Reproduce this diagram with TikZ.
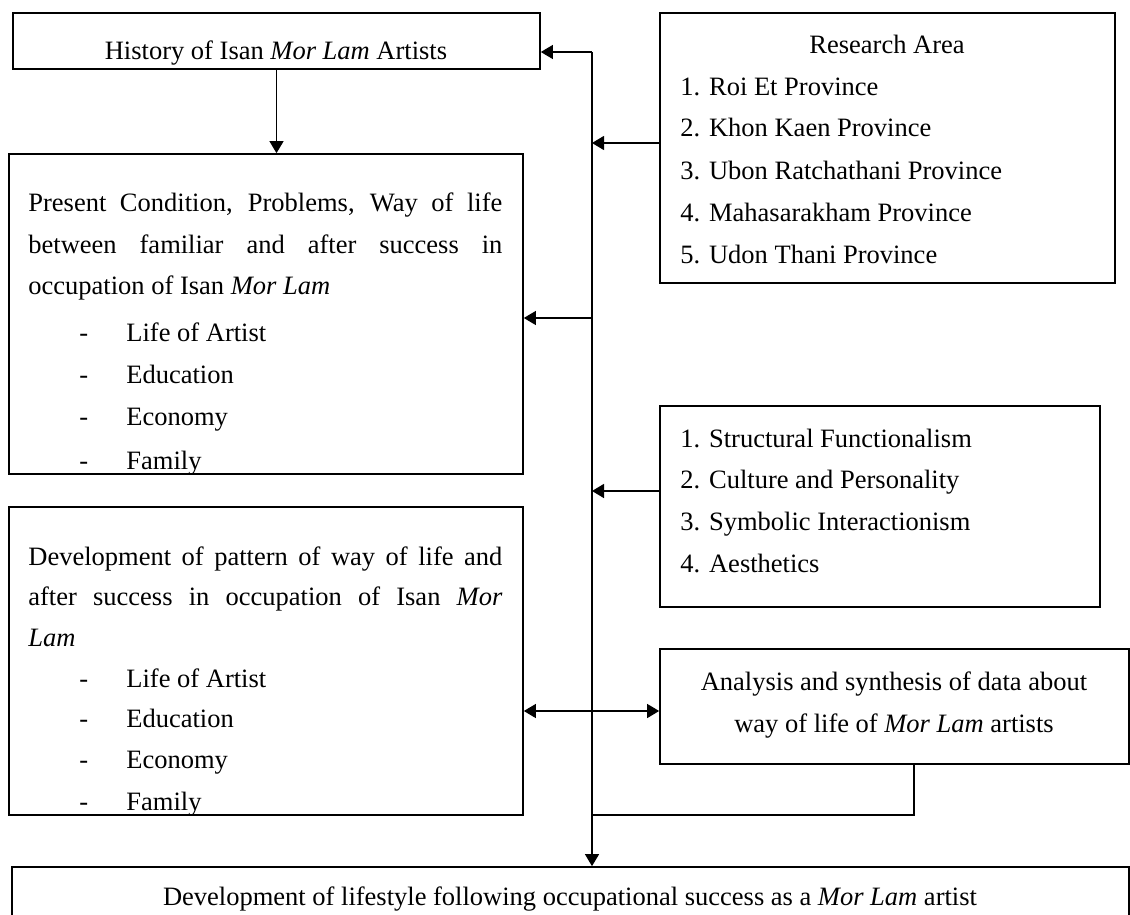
\documentclass[tikz,border=0pt]{standalone}
\usepackage{fontspec}
\setmainfont{Liberation Serif}
\usetikzlibrary{arrows.meta,fit}
\begin{document}
\begin{tikzpicture}[x=0.5pt,y=-0.5pt,
  box/.style={draw, line width=0.85pt, inner sep=0pt, rectangle},
  txt/.style={inner sep=0pt, font=\fontsize{13.25pt}{16pt}\selectfont},
  arr/.style={-{Triangle[length=6pt,width=7pt]}, line width=0.6pt},
  darr/.style={{Triangle[length=6pt,width=7pt]}-{Triangle[length=6pt,width=7pt]}, line width=0.6pt},
  trunk/.style={line width=1pt},
]
\useasboundingbox (0,0) rectangle (1130,915);

% boxes
\node[box, fit={(13,13) (540,69)}] (hist) {};
\node[box, fit={(660,13) (1115,283)}] (area) {};
\node[box, fit={(9,154) (523,474)}] (cond) {};
\node[box, fit={(660,406) (1100,607)}] (theory) {};
\node[box, fit={(9,507) (523,815)}] (devp) {};
\node[box, fit={(660,649) (1129,764)}] (anal) {};
\node[box, fit={(12,867) (1129,950)}] (result) {};

% texts
\node[txt, anchor=base] (histT) at (276,60) {History of Isan \textit{Mor Lam} Artists};

\node[txt, anchor=base] (areaT) at (887,54) {Research Area};
\node[txt, anchor=base west] (a1) at (680,96) {1. Roi Et Province};
\node[txt, anchor=base west] (a2) at (680,137) {2. Khon Kaen Province};
\node[txt, anchor=base west] (a3) at (680,179) {3. Ubon Ratchathani Province};
\node[txt, anchor=base west] (a4) at (680,221) {4. Mahasarakham Province};
\node[txt, anchor=base west] (a5) at (680,263) {5. Udon Thani Province};

\begin{scope}
\clip (9,154) rectangle (523,474);
\node[txt, anchor=base west] (c1) at (28,212) {\makebox[237pt][s]{Present Condition, Problems, Way of life}};
\node[txt, anchor=base west] (c2) at (28,253) {\makebox[237pt][s]{between familiar and after success in}};
\node[txt, anchor=base west] (c3) at (28,294) {occupation of Isan \textit{Mor Lam}};
\node[txt, anchor=base west] (c4d) at (79,341) {-};
\node[txt, anchor=base west] (c4) at (126,341) {Life of Artist};
\node[txt, anchor=base west] (c5d) at (79,383) {-};
\node[txt, anchor=base west] (c5) at (126,383) {Education};
\node[txt, anchor=base west] (c6d) at (79,425) {-};
\node[txt, anchor=base west] (c6) at (126,425) {Economy};
\node[txt, anchor=base west] (c7d) at (79,469) {-};
\node[txt, anchor=base west] (c7) at (126,469) {Family};
\end{scope}

\node[txt, anchor=base west] (t1) at (680,447) {1. Structural Functionalism};
\node[txt, anchor=base west] (t2) at (680,488) {2. Culture and Personality};
\node[txt, anchor=base west] (t3) at (680,530) {3. Symbolic Interactionism};
\node[txt, anchor=base west] (t4) at (680,572) {4. Aesthetics};

\begin{scope}
\clip (9,507) rectangle (523,815);
\node[txt, anchor=base west] (d1) at (28,565) {\makebox[237pt][s]{Development of pattern of way of life and}};
\node[txt, anchor=base west] (d2) at (28,605.5) {\makebox[237pt][s]{after success in occupation of Isan \textit{Mor}}};
\node[txt, anchor=base west] (d3) at (28,646) {\textit{Lam}};
\node[txt, anchor=base west] (d4d) at (79,687) {-};
\node[txt, anchor=base west] (d4) at (126,687) {Life of Artist};
\node[txt, anchor=base west] (d5d) at (79,727) {-};
\node[txt, anchor=base west] (d5) at (126,727) {Education};
\node[txt, anchor=base west] (d6d) at (79,768) {-};
\node[txt, anchor=base west] (d6) at (126,768) {Economy};
\node[txt, anchor=base west] (d7d) at (79,810) {-};
\node[txt, anchor=base west] (d7) at (126,810) {Family};
\end{scope}

\node[txt, anchor=base] (an1) at (894,690) {Analysis and synthesis of data about};
\node[txt, anchor=base] (an2) at (894,732) {way of life of \textit{Mor Lam} artists};

\node[txt, anchor=base] (resT) at (570,905) {Development of lifestyle following occupational success as a \textit{Mor Lam} artist};

% connectors
\coordinate (jtop) at (592,52);
\coordinate (jarea) at (592,143);
\coordinate (jcond) at (592,318);
\coordinate (jtheo) at (592,491);
\coordinate (jdev) at (592,711);
\coordinate (janal) at (592,815);
\coordinate (ax) at (914,0);

\draw[trunk] (jtop) -- (jdev);
\draw[arr] (jdev) -- (jdev |- result.north);
\draw[arr] (jtop) -- (jtop -| hist.east);
\draw[arr] (hist.south) -- (hist.south |- cond.north);
\draw[arr] (area.west |- jarea) -- (jarea);
\draw[arr] (jcond) -- (jcond -| cond.east);
\draw[arr, line width=0.8pt] (theory.west |- jtheo) -- (jtheo);
\draw[darr] (devp.east |- jdev) -- (anal.west |- jdev);
\draw[line width=1.1pt] (anal.south -| ax) |- (janal);
\end{tikzpicture}
\end{document}
